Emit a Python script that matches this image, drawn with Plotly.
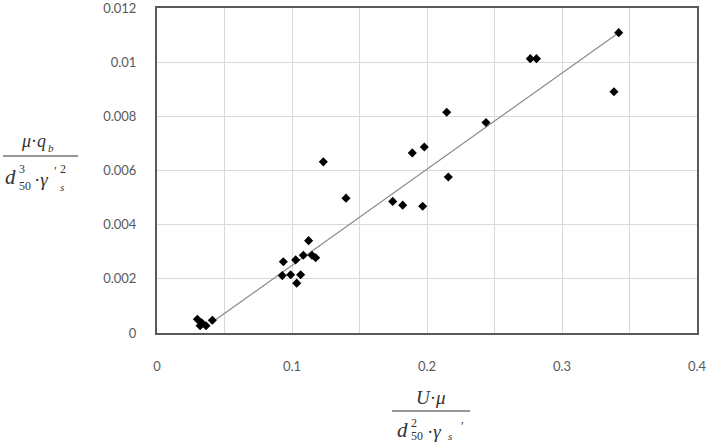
import plotly.graph_objects as go

# data
x_vals = [0.0299, 0.0331, 0.0319, 0.0363, 0.0410,
          0.0928, 0.0990, 0.1064, 0.1035, 0.0936, 0.1027, 0.1084, 0.1148, 0.1175, 0.1123,
          0.1232, 0.1400, 0.1746, 0.1820, 0.1968, 0.1891, 0.1980, 0.2146, 0.2158,
          0.2437, 0.2765, 0.2811, 0.3385, 0.3420]
y_vals = [0.00051, 0.00038, 0.00027, 0.00027, 0.00047,
          0.00212, 0.00215, 0.00215, 0.00184, 0.00263, 0.00270, 0.00287, 0.00287, 0.00278, 0.00341,
          0.00632, 0.00498, 0.00486, 0.00472, 0.00468, 0.00665, 0.00687, 0.00815, 0.00576,
          0.00777, 0.01013, 0.01013, 0.00891, 0.01109]
trend_x = [0.0395, 0.3420]
trend_y = [0.00035, 0.01109]

x_tickvals = [0, 0.1, 0.2, 0.3, 0.4]
x_ticktext = ["0", "0.1", "0.2", "0.3", "0.4"]
y_tickvals = [0, 0.002, 0.004, 0.006, 0.008, 0.010, 0.012]
y_ticktext = ["0", "0.002", "0.004", "0.006", "0.008", "0.01", "0.012"]

W, H = 716, 444
L, R, T, B = 157, 697, 8, 333

def px(x):
    return (x - L) / (R - L)

def py(y):
    return (B - y) / (B - T)

fig = go.Figure()
fig.add_trace(go.Scatter(x=trend_x, y=trend_y, mode="lines",
                         line=dict(color="#8c8c8c", width=1.2), hoverinfo="skip"))
fig.add_trace(go.Scatter(x=x_vals, y=y_vals, mode="markers",
                         marker=dict(symbol="diamond", size=7, color="black")))

tick_font = dict(family="Lato, Open Sans, sans-serif", size=13, color="#595959")
fig.update_xaxes(range=[0, 0.4], tickvals=x_tickvals, ticktext=x_ticktext,
                 showgrid=True, gridcolor="#d9d9d9", gridwidth=1,
                 minor=dict(dtick=0.05, showgrid=True, gridcolor="#d9d9d9", gridwidth=1),
                 showline=True, linecolor="#595959", linewidth=2, mirror=True,
                 ticks="", tickfont=tick_font, zeroline=False, ticklabelstandoff=20,
                 ticklabeloverflow="allow", automargin=False)
fig.update_yaxes(range=[0, 0.012], tickvals=y_tickvals, ticktext=y_ticktext,
                 showgrid=True, gridcolor="#d9d9d9", gridwidth=1,
                 showline=True, linecolor="#595959", linewidth=2, mirror=True,
                 ticks="", tickfont=tick_font, zeroline=False, ticklabelstandoff=16,
                 ticklabeloverflow="allow", automargin=False)

SER = "Liberation Serif, DejaVu Serif, serif"
C = "#333333"

def ann(text, x, y, size):
    fig.add_annotation(text=text, x=px(x), y=py(y), xref="paper", yref="paper",
                       showarrow=False, font=dict(family=SER, size=size, color=C),
                       xanchor="left", yanchor="middle")

def bar(x0, x1, y):
    fig.add_shape(type="line", xref="paper", yref="paper",
                  x0=px(x0), x1=px(x1), y0=py(y), y1=py(y),
                  line=dict(color=C, width=1.2))

# y-axis title fraction
ann("<i>μ</i>·<i>q</i>", 19, 141, 18)
ann("<i>b</i>", 46, 148, 11)
bar(3, 78, 156)
ann("<i>d</i>", 3, 177, 21)
ann("3", 17, 169, 12)
ann("50", 17, 186, 12)
ann("·<i>γ</i>", 32, 179, 19)
ann("′", 52, 170, 13)
ann("2", 58, 169, 12)
ann("<i>s</i>", 58, 187, 11)

# x-axis title fraction
ann("<i>U</i>·<i>μ</i>", 414, 397, 19)
bar(392, 470, 411)
ann("<i>d</i>", 395, 430, 21)
ann("2", 409, 423, 12)
ann("50", 409, 436, 12)
ann("·<i>γ</i>", 425, 431, 19)
ann("<i>s</i>", 446, 436, 11)
ann("′", 459, 425, 13)

fig.update_layout(width=W, height=H, showlegend=False,
                  plot_bgcolor="white", paper_bgcolor="white",
                  margin=dict(l=L, r=W - R, t=T, b=H - B))

fig.write_html("out.html")
